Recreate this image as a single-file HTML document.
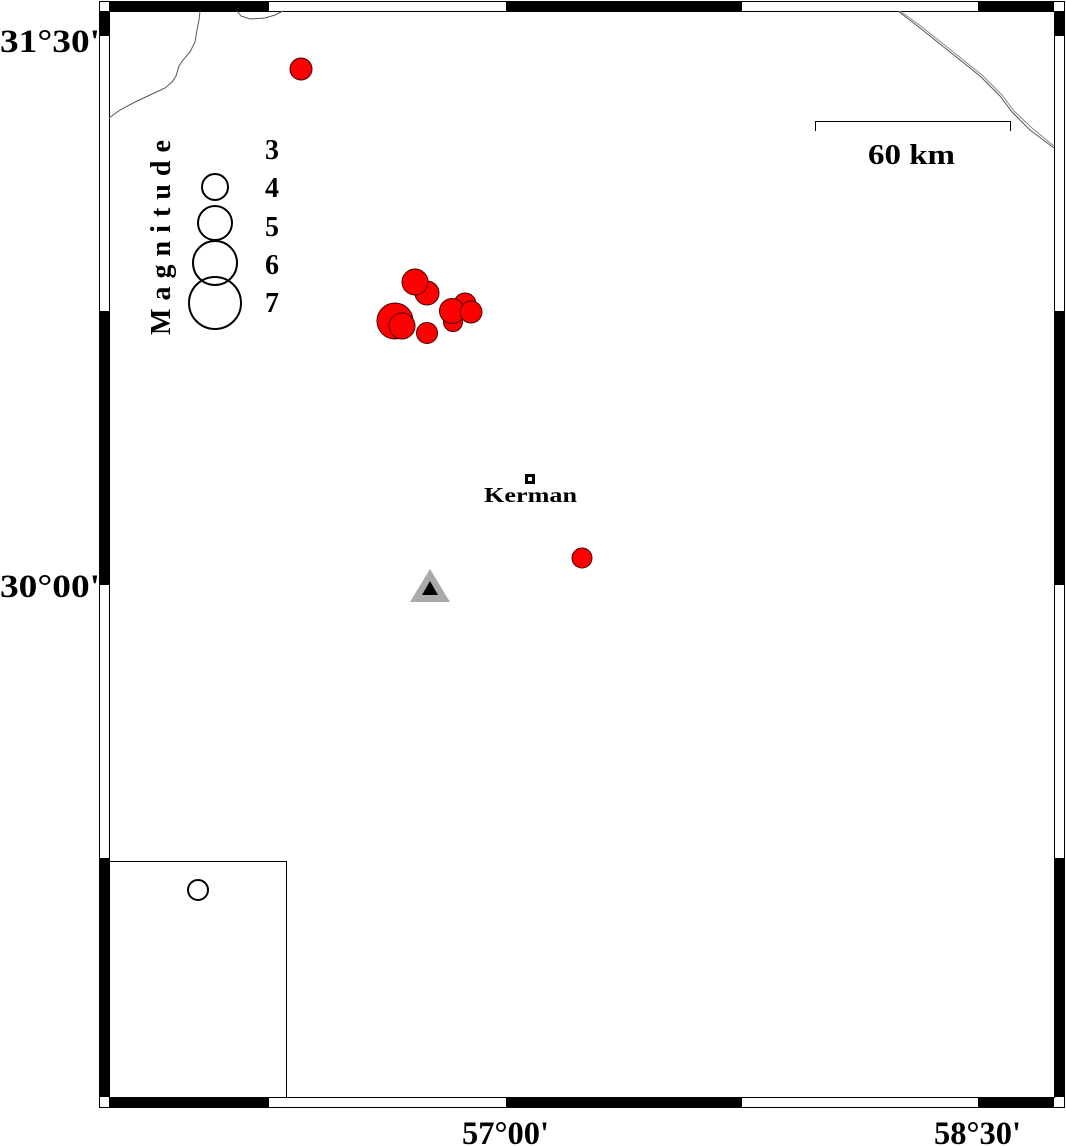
<!DOCTYPE html>
<html><head><meta charset="utf-8"><style>
html,body{margin:0;padding:0;background:#fff;}
svg{display:block;}
text{font-family:"Liberation Serif",serif;font-weight:bold;fill:#000;}
</style></head><body>
<svg width="1066" height="1146" viewBox="0 0 1066 1146" xmlns="http://www.w3.org/2000/svg">
<rect x="0" y="0" width="1066" height="1146" fill="#fff"/>
<rect x="99.5" y="1.5" width="965" height="1106" fill="#fff" stroke="#000" stroke-width="1"/>
<rect x="109.5" y="11.5" width="945" height="1086" fill="#fff" stroke="#000" stroke-width="1"/>
<g fill="#000">
<rect x="109" y="1" width="160" height="10"/><rect x="506" y="1" width="236" height="10"/><rect x="978" y="1" width="76" height="10"/>
<rect x="109" y="1097" width="160" height="10"/><rect x="506" y="1097" width="236" height="10"/><rect x="978" y="1097" width="76" height="10"/>
<rect x="99" y="11" width="10" height="25"/><rect x="99" y="311" width="10" height="274"/><rect x="99" y="858" width="10" height="239"/>
<rect x="1054" y="11" width="10" height="25"/><rect x="1054" y="311" width="10" height="274"/><rect x="1054" y="858" width="10" height="239"/>
</g>
<g fill="none" stroke="#555" stroke-width="1">
<path d="M200,11 L199,20 L197,30 L195,42 L190,52 L183,60 L179,66 L176,76 L172,82 L165,88 L150,95 L135,102 L120,110 L109,118"/>
<path d="M237,11 L241,16 L250,19 L265,18 L275,15 L283,11"/>
<path d="M898,11 L920,28 L950,52 L980,76 L1000,96 L1012,112 L1030,130 L1054,148"/>
<path d="M900,11 L922,27 L952,51 L982,75 L1002,95 L1014,111 L1032,128 L1054,146" stroke="#888"/>
</g>
<path d="M815.5,131 V121.5 H1010.5 V131" fill="none" stroke="#000" stroke-width="1"/>
<text x="868" y="164" font-size="29" textLength="87" lengthAdjust="spacingAndGlyphs">60 km</text>
<text x="0" y="0" font-size="28" textLength="195" lengthAdjust="spacing" transform="translate(170,335) rotate(-90)">Magnitude</text>
<g fill="none" stroke="#000" stroke-width="2">
<circle cx="215" cy="187" r="13"/><circle cx="215" cy="223" r="17"/><circle cx="215" cy="263" r="22"/><circle cx="215" cy="303" r="26"/>
</g>
<g font-size="28">
<text x="265" y="159">3</text><text x="265" y="197">4</text><text x="265" y="236">5</text><text x="265" y="274">6</text><text x="265" y="312">7</text>
</g>
<g fill="#f00" stroke="#400" stroke-width="1">
<circle cx="301" cy="69" r="11"/>
<circle cx="427" cy="293" r="12"/>
<circle cx="415" cy="282" r="13"/>
<circle cx="395" cy="321" r="18"/>
<circle cx="402" cy="326" r="13"/>
<circle cx="427" cy="333" r="10.5"/>
<circle cx="465" cy="304" r="11"/>
<circle cx="453" cy="322" r="9.5"/>
<circle cx="452" cy="311" r="12.5"/>
<circle cx="471" cy="312" r="11"/>
<circle cx="582" cy="558" r="10"/>
</g>
<rect x="525" y="474" width="10" height="10" fill="#000"/>
<rect x="528" y="477" width="4" height="4" fill="#fff"/>
<text x="484" y="502" font-size="21" textLength="93" lengthAdjust="spacingAndGlyphs">Kerman</text>
<polygon points="430,569 450,602 410,602" fill="#aaa"/>
<polygon points="430,581 438,595 422,595" fill="#000"/>
<rect x="109.5" y="861.5" width="177" height="236" fill="#fff" stroke="#000" stroke-width="1"/>
<circle cx="198" cy="890" r="10" fill="none" stroke="#000" stroke-width="2"/>
<g font-size="33">
<text x="0" y="52" textLength="100" lengthAdjust="spacingAndGlyphs">31°30'</text>
<text x="0" y="597" textLength="100" lengthAdjust="spacingAndGlyphs">30°00'</text>
<text x="462" y="1144" textLength="87" lengthAdjust="spacingAndGlyphs">57°00'</text>
<text x="934" y="1144" textLength="87" lengthAdjust="spacingAndGlyphs">58°30'</text>
</g>
</svg>
</body></html>
